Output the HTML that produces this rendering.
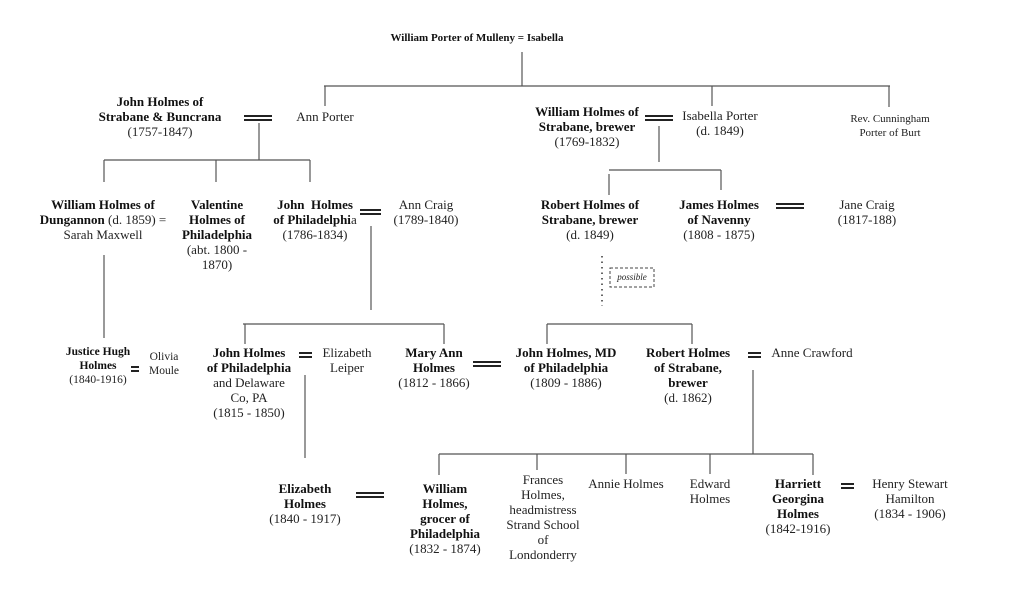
<!DOCTYPE html>
<html><head><meta charset="utf-8"><style>
html,body{margin:0;padding:0;background:#fff;width:1024px;height:597px;overflow:hidden}
.t{position:absolute;width:160px;text-align:center;font-family:"Liberation Serif","DejaVu Serif",serif;font-size:13px;line-height:15px;color:#222;white-space:nowrap}
b{color:#111}
svg{position:absolute;left:0;top:0}
</style></head><body>
<svg width="1024" height="597" stroke="#555" stroke-width="1.2" fill="none">
<line x1="522" y1="52" x2="522" y2="86"/>
<line x1="324" y1="86" x2="890" y2="86"/>
<line x1="325" y1="86" x2="325" y2="106"/>
<line x1="712" y1="86" x2="712" y2="106"/>
<line x1="889" y1="86" x2="889" y2="107"/>
<line x1="259" y1="123" x2="259" y2="160"/>
<line x1="104" y1="160" x2="310" y2="160"/>
<line x1="104" y1="160" x2="104" y2="182"/>
<line x1="216" y1="160" x2="216" y2="182"/>
<line x1="310" y1="160" x2="310" y2="182"/>
<line x1="104" y1="255" x2="104" y2="338"/>
<line x1="371" y1="226" x2="371" y2="310"/>
<line x1="243" y1="324" x2="444" y2="324"/>
<line x1="245" y1="324" x2="245" y2="344"/>
<line x1="444" y1="324" x2="444" y2="344"/>
<line x1="305" y1="375" x2="305" y2="458"/>
<line x1="659" y1="126" x2="659" y2="162"/>
<line x1="609" y1="170" x2="721" y2="170"/>
<line x1="609" y1="174" x2="609" y2="195"/>
<line x1="721" y1="170" x2="721" y2="190"/>
<line x1="547" y1="324" x2="692" y2="324"/>
<line x1="547" y1="324" x2="547" y2="344"/>
<line x1="692" y1="324" x2="692" y2="344"/>
<line x1="753" y1="370" x2="753" y2="454"/>
<line x1="439" y1="454" x2="813" y2="454"/>
<line x1="439" y1="454" x2="439" y2="475"/>
<line x1="537" y1="454" x2="537" y2="470"/>
<line x1="626" y1="454" x2="626" y2="474"/>
<line x1="710" y1="454" x2="710" y2="474"/>
<line x1="813" y1="454" x2="813" y2="475"/>
<line x1="602" y1="256" x2="602" y2="306" stroke="#333" stroke-width="1.5" stroke-dasharray="1.5,4"/>
<rect x="610" y="268" width="44" height="19" stroke="#444" stroke-width="1" stroke-dasharray="3,2"/>
<g fill="#222" stroke="none">
<rect x="244" y="115" width="28" height="2"/><rect x="244" y="119" width="28" height="2"/>
<rect x="645" y="115" width="28" height="2"/><rect x="645" y="119" width="28" height="2"/>
<rect x="360" y="209" width="21" height="2"/><rect x="360" y="213" width="21" height="2"/>
<rect x="776" y="203" width="28" height="2"/><rect x="776" y="207" width="28" height="2"/>
<rect x="131" y="366" width="8" height="2"/><rect x="131" y="370" width="8" height="2"/>
<rect x="299" y="352" width="13" height="2"/><rect x="299" y="356" width="13" height="2"/>
<rect x="473" y="361" width="28" height="2"/><rect x="473" y="365" width="28" height="2"/>
<rect x="748" y="352" width="13" height="2"/><rect x="748" y="356" width="13" height="2"/>
<rect x="356" y="492" width="28" height="2"/><rect x="356" y="496" width="28" height="2"/>
<rect x="841" y="483" width="13" height="2"/><rect x="841" y="487" width="13" height="2"/>
</g>
</svg>

<div class="t" style="left:377px;top:31px;width:200px;font-size:11px"><b>William Porter of Mulleny = Isabella</b></div>
<div class="t" style="left:80px;top:94px"><b>John Holmes of<br>Strabane &amp; Buncrana</b><br>(1757-1847)</div>
<div class="t" style="left:245px;top:109px">Ann Porter</div>
<div class="t" style="left:507px;top:104px"><b>William Holmes of<br>Strabane, brewer</b><br>(1769-1832)</div>
<div class="t" style="left:640px;top:108px">Isabella Porter<br>(d. 1849)</div>
<div class="t" style="left:810px;top:112px;font-size:11px;line-height:14px">Rev. Cunningham<br>Porter of Burt</div>

<div class="t" style="left:23px;top:197px"><b>William Holmes of<br>Dungannon</b> (d. 1859) =<br>Sarah Maxwell</div>
<div class="t" style="left:137px;top:197px"><b>Valentine<br>Holmes of<br>Philadelphia</b><br>(abt. 1800 -<br>1870)</div>
<div class="t" style="left:235px;top:197px"><b>John &nbsp;Holmes<br>of Philadelphi</b>a<br>(1786-1834)</div>
<div class="t" style="left:346px;top:197px">Ann Craig<br>(1789-1840)</div>
<div class="t" style="left:510px;top:197px"><b>Robert Holmes of<br>Strabane, brewer</b><br>(d. 1849)</div>
<div class="t" style="left:639px;top:197px"><b>James Holmes<br>of Navenny</b><br>(1808 - 1875)</div>
<div class="t" style="left:787px;top:197px">Jane Craig<br>(1817-188)</div>
<div class="t" style="left:552px;top:270px;width:160px;font-size:9px;line-height:14px;font-style:italic">possible</div>

<div class="t" style="left:18px;top:345px;font-size:11.5px;line-height:14px"><b>Justice Hugh<br>Holmes</b><br>(1840-1916)</div>
<div class="t" style="left:84px;top:350px;font-size:11.5px;line-height:14px">Olivia<br>Moule</div>
<div class="t" style="left:169px;top:345px"><b>John Holmes<br>of Philadelphia</b><br>and Delaware<br>Co, PA<br>(1815 - 1850)</div>
<div class="t" style="left:267px;top:345px">Elizabeth<br>Leiper</div>
<div class="t" style="left:354px;top:345px"><b>Mary Ann<br>Holmes</b><br>(1812 - 1866)</div>
<div class="t" style="left:486px;top:345px"><b>John Holmes, MD<br>of Philadelphia</b><br>(1809 - 1886)</div>
<div class="t" style="left:608px;top:345px"><b>Robert Holmes<br>of Strabane,<br>brewer</b><br>(d. 1862)</div>
<div class="t" style="left:732px;top:345px">Anne Crawford</div>

<div class="t" style="left:225px;top:481px"><b>Elizabeth<br>Holmes</b><br>(1840 - 1917)</div>
<div class="t" style="left:365px;top:481px"><b>William<br>Holmes,<br>grocer of<br>Philadelphia</b><br>(1832 - 1874)</div>
<div class="t" style="left:463px;top:472px">Frances<br>Holmes,<br>headmistress<br>Strand School<br>of<br>Londonderry</div>
<div class="t" style="left:546px;top:476px">Annie Holmes</div>
<div class="t" style="left:630px;top:476px">Edward<br>Holmes</div>
<div class="t" style="left:718px;top:476px"><b>Harriett<br>Georgina<br>Holmes</b><br>(1842-1916)</div>
<div class="t" style="left:830px;top:476px">Henry Stewart<br>Hamilton<br>(1834 - 1906)</div>
</body></html>
